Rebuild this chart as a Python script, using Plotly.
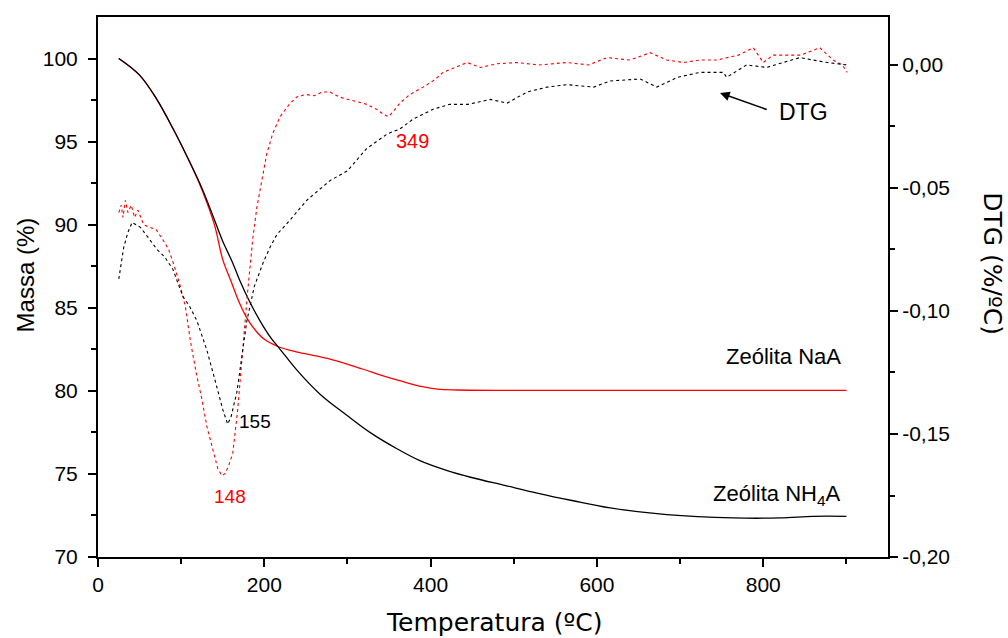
import plotly.graph_objects as go

# TG curves (mass %)
t_naa = [25, 50, 70, 90, 110, 125, 140, 150, 160, 170, 180, 190, 200, 215, 230, 247, 280, 319, 340, 367, 390, 408, 432, 500, 600, 700, 800, 900]
m_naa = [100, 99.0, 97.6, 95.8, 93.8, 92.1, 90.0, 87.9, 86.6, 85.3, 84.3, 83.6, 83.1, 82.7, 82.45, 82.25, 81.9, 81.3, 80.95, 80.55, 80.25, 80.1, 80.05, 80.03, 80.03, 80.03, 80.03, 80.03]

t_nh4 = [25, 50, 70, 90, 110, 125, 140, 150, 162, 170, 183, 195, 207, 219, 240, 267, 300, 327, 360, 387, 420, 448, 490, 528, 570, 616, 684, 764, 820, 860, 900]
m_nh4 = [100, 99.0, 97.6, 95.8, 93.8, 92.2, 90.3, 89.0, 87.7, 86.7, 85.3, 84.2, 83.25, 82.5, 81.2, 79.8, 78.5, 77.5, 76.5, 75.8, 75.2, 74.8, 74.3, 73.85, 73.4, 72.95, 72.55, 72.35, 72.35, 72.45, 72.45]

# DTG curves (%/ºC)
t_dtg_naa = [25, 28, 30, 33, 36, 40, 44, 48, 55, 62, 70, 78, 85, 92, 99, 105, 111, 118, 125, 131, 138, 144, 149, 153, 157, 162, 168, 174, 180, 186, 191, 197, 203, 210, 219, 230, 239, 250, 260, 270, 279, 290, 300, 312, 323, 335, 343, 349, 355, 363, 375, 391, 405, 415, 430, 444, 460, 480, 504, 530, 564, 590, 612, 640, 664, 684, 704, 724, 744, 770, 788, 800, 812, 824, 845, 868, 884, 895, 901]
d_naa = [-0.060, -0.057, -0.062, -0.055, -0.060, -0.057, -0.062, -0.059, -0.065, -0.066, -0.067, -0.071, -0.075, -0.082, -0.090, -0.098, -0.112, -0.125, -0.136, -0.147, -0.156, -0.164, -0.167, -0.166, -0.163, -0.158, -0.140, -0.115, -0.092, -0.071, -0.058, -0.047, -0.036, -0.028, -0.021, -0.016, -0.013, -0.012, -0.0125, -0.011, -0.011, -0.013, -0.014, -0.015, -0.016, -0.018, -0.020, -0.021, -0.019, -0.0155, -0.012, -0.009, -0.006, -0.003, -0.001, 0.001, -0.001, 0.0005, 0.001, 0.0, 0.001, 0.0, 0.003, 0.002, 0.005, 0.002, 0.001, 0.002, 0.002, 0.004, 0.007, 0.001, 0.004, 0.004, 0.004, 0.007, 0.002, 0.000, -0.003]

t_dtg_nh4 = [25, 28, 31, 36, 41, 46, 51, 60, 71, 80, 90, 102, 110, 119, 131, 143, 150, 156, 160, 167, 173, 179, 188, 199, 207, 215, 231, 251, 265, 279, 300, 323, 348, 363, 379, 403, 423, 445, 472, 492, 516, 540, 564, 596, 616, 652, 672, 697, 724, 752, 756, 780, 804, 825, 844, 860, 877, 901]
d_nh4 = [-0.087, -0.080, -0.074, -0.068, -0.064, -0.065, -0.066, -0.070, -0.075, -0.078, -0.083, -0.094, -0.098, -0.104, -0.116, -0.131, -0.140, -0.146, -0.143, -0.133, -0.118, -0.104, -0.090, -0.080, -0.074, -0.069, -0.063, -0.055, -0.051, -0.047, -0.043, -0.034, -0.028, -0.026, -0.022, -0.018, -0.016, -0.016, -0.014, -0.0155, -0.011, -0.009, -0.008, -0.009, -0.0065, -0.0057, -0.009, -0.005, -0.003, -0.003, -0.005, 0.000, -0.001, 0.001, 0.003, 0.002, 0.001, 0.000]

dtg_tickvals = [-0.20, -0.15, -0.10, -0.05, 0.00]
dtg_ticktext = ["-0,20", "-0,15", "-0,10", "-0,05", "0,00"]

FONT = "Liberation Sans, Arial, sans-serif"
WIDE = "DejaVu Sans, sans-serif"

fig = go.Figure()
fig.add_trace(go.Scatter(x=t_naa, y=m_naa, mode="lines", line=dict(color="#ff0000", width=1.3, shape="spline"), showlegend=False))
fig.add_trace(go.Scatter(x=t_nh4, y=m_nh4, mode="lines", line=dict(color="#000000", width=1.3, shape="spline"), showlegend=False))
fig.add_trace(go.Scatter(x=t_dtg_naa, y=d_naa, mode="lines", yaxis="y2", line=dict(color="#ff0000", width=1.1, dash="dot"), showlegend=False))
fig.add_trace(go.Scatter(x=t_dtg_nh4, y=d_nh4, mode="lines", yaxis="y2", line=dict(color="#000000", width=1.1, dash="dot"), showlegend=False))

axis_common = dict(showline=True, linecolor="black", linewidth=2, ticks="outside", ticklen=8, tickwidth=1.5, tickcolor="black",
                   showgrid=False, zeroline=False, tickfont=dict(family=FONT, size=21, color="black"))

fig.update_layout(
    width=1008, height=638,
    margin=dict(l=98, r=120, t=17, b=81),
    paper_bgcolor="white", plot_bgcolor="white",
    font=dict(family=FONT, color="black"),
    xaxis=dict(range=[0, 950], tickvals=[0, 200, 400, 600, 800], mirror=True,
               minor=dict(tickvals=[100, 300, 500, 700, 900], ticklen=5, tickwidth=1.5, tickcolor="black", ticks="outside"),
               **axis_common),
    yaxis=dict(range=[70, 102.5], tickvals=[70, 75, 80, 85, 90, 95, 100], ticklabelstandoff=6,
               minor=dict(tickvals=[72.5, 77.5, 82.5, 87.5, 92.5, 97.5], ticklen=5, tickwidth=1.5, tickcolor="black", ticks="outside"),
               **axis_common),
    yaxis2=dict(overlaying="y", side="right", range=[-0.2, 0.0195], tickvals=dtg_tickvals, ticktext=dtg_ticktext,
                minor=dict(tickvals=[-0.175, -0.125, -0.075, -0.025], ticklen=5, tickwidth=1.5, tickcolor="black", ticks="outside"),
                **axis_common),
)

ann = [
    dict(text="Massa (%)", xref="paper", yref="paper", x=-0.092, y=0.522, xanchor="center", yanchor="middle",
         textangle=-90, showarrow=False, font=dict(size=24)),
    dict(text="DTG (%/ºC)", xref="paper", yref="paper", x=1.133, y=0.544, xanchor="center", yanchor="middle",
         textangle=90, showarrow=False, font=dict(size=25, family=WIDE)),
    dict(text="Temperatura (ºC)", xref="paper", yref="paper", x=0.502, y=-0.122, xanchor="center", yanchor="middle",
         showarrow=False, font=dict(size=25, family=WIDE)),
    dict(text="155", x=189, y=-0.145, xref="x", yref="y2", showarrow=False, font=dict(size=19, color="black")),
    dict(text="148", x=159, y=-0.1756, xref="x", yref="y2", showarrow=False, font=dict(size=19, color="#ff0000")),
    dict(text="349", x=378, y=-0.0309, xref="x", yref="y2", showarrow=False, font=dict(size=20, color="#ff0000")),
    dict(text="DTG", x=848, y=-0.0191, xref="x", yref="y2", showarrow=False, font=dict(size=23, color="black")),
    dict(text="", x=748, y=-0.0114, xref="x", yref="y2", ax=806, ay=-0.0183, axref="x", ayref="y2",
         showarrow=True, arrowhead=2, arrowsize=1.2, arrowwidth=1.6, arrowcolor="black"),
    dict(text="Zeólita NaA", x=896, y=82.05, xref="x", yref="y", xanchor="right", showarrow=False, font=dict(size=22)),
    dict(text="Zeólita NH<sub>4</sub>A", x=895, y=73.73, xref="x", yref="y", xanchor="right", showarrow=False, font=dict(size=22)),
]
fig.update_layout(annotations=ann)

fig.write_html("out.html")
